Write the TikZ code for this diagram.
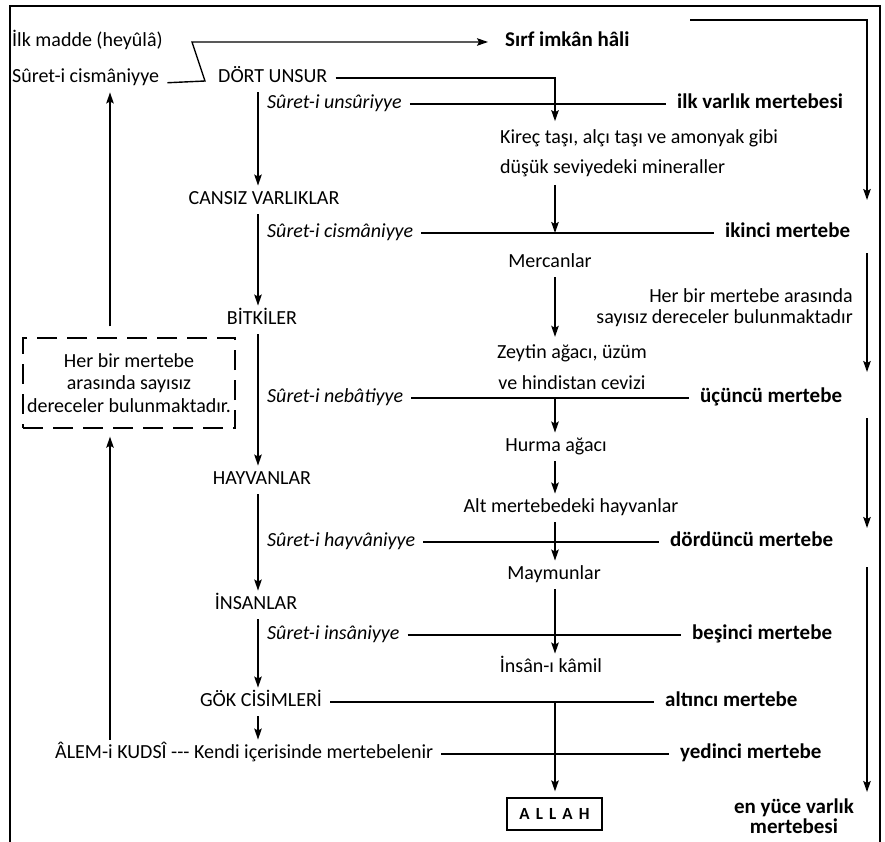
\documentclass[tikz,border=0pt]{standalone}
\usepackage{fontspec}
\setmainfont{Carlito}
\usepackage{tikz}
\usetikzlibrary{arrows.meta,positioning}

\tikzstyle{entry} = [inner xsep=8pt, inner ysep=5pt, text height=14pt, text depth=4.5pt, font=\fontsize{20}{21}\selectfont]
\tikzstyle{suret} = [entry, font=\fontsize{20}{21}\selectfont\itshape]
\tikzstyle{rank} = [entry, inner xsep=11pt, font=\fontsize{21}{22}\selectfont\bfseries]
\tikzstyle{block} = [inner xsep=8pt, inner ysep=8pt]
\tikzstyle{tier} = [line width=1.3pt]
\tikzstyle{arrow} = [line width=1.4pt,->,>={Stealth[length=11pt,width=7.5pt,inset=2pt]}]
\tikzstyle{pageframe} = [line width=1.5pt]

\begin{document}
\begin{tikzpicture}[x=1pt, y=-1pt]
\useasboundingbox (0,0) rectangle (885,842);
\draw [pageframe] (10,842) -- (10,6) -- (880,6) -- (880,842);

\coordinate (colW) at (110,0);
\coordinate (colL) at (258,0);
\coordinate (colR) at (555,0);
\coordinate (colE) at (867,0);
\coordinate (fork) at (192,42);
\coordinate (kink) at (205,81);
\coordinate (topbar) at (690,20);
\coordinate (e1) at (867,200);
\coordinate (e2s) at (867,253);
\coordinate (e2) at (867,372);
\coordinate (e3s) at (867,418);
\coordinate (e3) at (867,528);
\coordinate (e4s) at (867,567);
\coordinate (e4) at (867,792);

\node (heyula) [entry, anchor=west] at (4,42) {İlk madde (heyûlâ)};
\node (cism) [entry, anchor=west] at (4,78) {Sûret-i cismâniyye};
\node (dort) [entry, anchor=west] at (210,78) {DÖRT UNSUR};
\node (sirf) [rank, inner xsep=17pt, anchor=west] at (488,42) {Sırf imkân hâli};
\node (u1) [suret, anchor=west] at (259,104) {Sûret-i unsûriyye};
\node (r1) [rank, anchor=west] at (666,104) {ilk varlık mertebesi};
\node (kirec) [block, align=left, anchor=west, font=\fontsize{20}{30}\selectfont] at (492,153) {Kireç taşı, alçı taşı ve amonyak gibi\\düşük seviyedeki mineraller};
\node (cansiz) [entry] at (264,200) {CANSIZ VARLIKLAR};
\node (u2) [suret, anchor=west] at (259,233) {Sûret-i cismâniyye};
\node (r2) [rank, anchor=west] at (714,233) {ikinci mertebe};
\node (mercan) [entry] at (550,263) {Mercanlar};
\node (arada) [block, align=right, anchor=east, font=\fontsize{20}{21}\selectfont] at (861,307.5) {Her bir mertebe arasında\\sayısız dereceler bulunmaktadır};
\node (bitki) [entry] at (262,320) {BİTKİLER};
\node (kutu) [draw, line width=1.4pt, dash pattern=on 20pt off 10pt, inner xsep=3pt, minimum width=212pt, minimum height=90pt, align=center, font=\fontsize{20}{22.5}\selectfont] at (129,383) {Her bir mertebe\\arasında sayısız\\dereceler bulunmaktadır.};
\node (zeytin) [block, align=center, font=\fontsize{20}{31}\selectfont] at (572,367.5) {Zeytin ağacı, üzüm\\ve hindistan cevizi};
\node (u3) [suret, anchor=west] at (259,398) {Sûret-i nebâtiyye};
\node (r3) [rank, anchor=west] at (689,398) {üçüncü mertebe};
\node (hurma) [entry] at (556,447) {Hurma ağacı};
\node (hayvan) [entry] at (262,480) {HAYVANLAR};
\node (alt) [entry] at (571,508) {Alt mertebedeki hayvanlar};
\node (u4) [suret, anchor=west] at (259,542) {Sûret-i hayvâniyye};
\node (r4) [rank, anchor=west] at (659,542) {dördüncü mertebe};
\node (maymun) [entry] at (554,575) {Maymunlar};
\node (insan) [entry] at (256,605) {İNSANLAR};
\node (u5) [suret, anchor=west] at (259,635) {Sûret-i insâniyye};
\node (r5) [rank, anchor=west] at (681,635) {beşinci mertebe};
\node (kamil) [entry] at (551,668) {İnsân-ı kâmil};
\node (gok) [entry] at (261,702) {GÖK CİSİMLERİ};
\node (r6) [rank, anchor=west] at (654,702) {altıncı mertebe};
\node (alem) [entry, anchor=west] at (47,754) {ÂLEM-i KUDSÎ -{}-{}- Kendi içerisinde mertebelenir};
\node (r7) [rank, anchor=west] at (669,754) {yedinci mertebe};
\node (allah) [draw, line width=1.2pt, minimum width=95pt, minimum height=32pt, font=\fontsize{17}{18}\selectfont\bfseries\addfontfeature{LetterSpace=36}] at (554.5,814) {ALLAH};
\node (yuce) [block, align=center, font=\fontsize{21}{20}\selectfont\bfseries] at (794,816) {en yüce varlık\\mertebesi};

\draw [arrow] (cism.base east) -- (kink) -- (fork) -- (sirf.west);
\draw [arrow] (dort.east) -| (kirec.north -| colR);
\draw [arrow] (dort.south -| colL) -- (cansiz.north -| colL);
\draw [arrow] (cansiz.south -| colL) -- (bitki.north -| colL);
\draw [arrow] (bitki.south -| colL) -- (hayvan.north -| colL);
\draw [arrow] (hayvan.south -| colL) -- (insan.north -| colL);
\draw [arrow] (insan.south -| colL) -- (gok.north -| colL);
\draw [arrow] (gok.south -| colL) -- (alem.north -| colL);
\draw [arrow] (kirec.south -| colR) -- (colR |- r2);
\draw [arrow] (mercan.south -| colR) -- (zeytin.north -| colR);
\draw [arrow] (colR |- r3) -- (hurma.north -| colR);
\draw [arrow] (hurma.south -| colR) -- (alt.north -| colR);
\draw [arrow] (alt.south -| colR) -- (maymun.north -| colR);
\draw [arrow] (maymun.south -| colR) -- (kamil.north -| colR);
\draw [arrow, shorten >=6pt] (colR |- r6) -- (allah.north -| colR);
\draw [tier] (u1.east) -- (r1.west);
\draw [tier] (u2.east) -- (r2.west);
\draw [tier] (u3.east) -- (r3.west);
\draw [tier] (u4.east) -- (r4.west);
\draw [tier] (u5.east) -- (r5.west);
\draw [tier] (gok.east) -- (r6.west);
\draw [tier] (alem.east) -- (r7.west);
\draw [arrow, shorten >=8pt] (alem.north -| colW) -- (kutu.south -| colW);
\draw [arrow, shorten <=11pt] (kutu.north -| colW) -- (cism.south -| colW);
\draw [arrow] (topbar) -| (e1);
\draw [arrow] (e2s) -- (e2);
\draw [arrow] (e3s) -- (e3);
\draw [arrow] (e4s) -- (e4);
\end{tikzpicture}
\end{document}
